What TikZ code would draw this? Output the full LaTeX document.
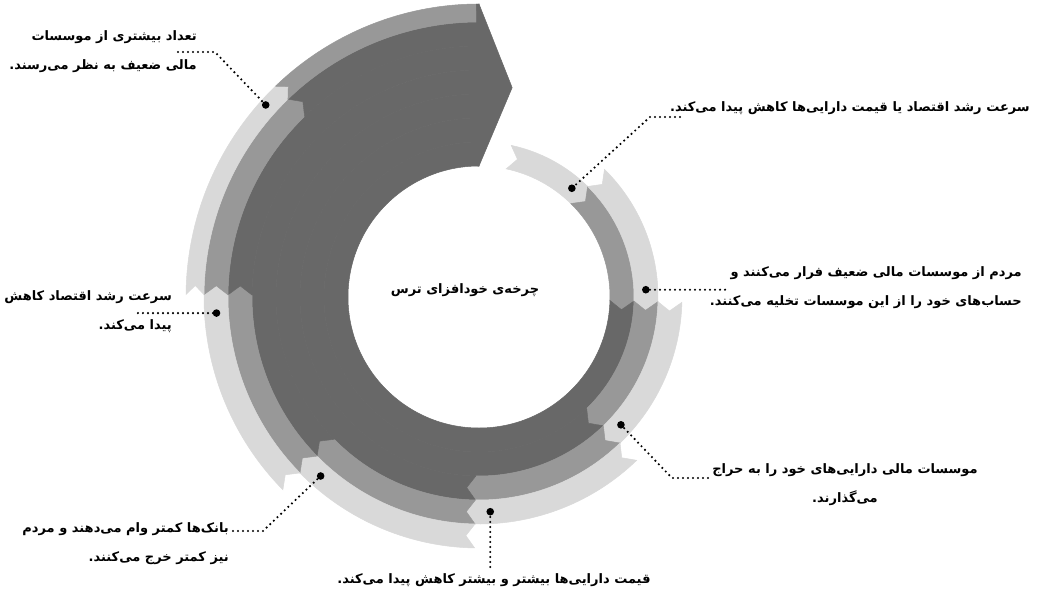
\documentclass[tikz,border=0pt]{standalone}
\usepackage{fontspec}
\newfontfamily\fa[Script=Arabic]{DejaVu Sans}
\TeXXeTstate=1
\definecolor{lite}{RGB}{217,217,217}
\definecolor{mid}{RGB}{152,152,152}
\definecolor{dk}{RGB}{104,104,104}

\begin{document}
\begin{tikzpicture}[x=1pt,y=1pt,
  lead/.style={line width=2.4pt,dash pattern=on 0pt off 5pt,line cap=round},
  lbl/.style={font=\fa\bfseries\fontsize{13}{29}\selectfont,inner sep=0pt}]
% colour, inner r, outer r, from, to, notch at tail, point at head
\def\seg#1#2#3#4#5#6#7{%
  \pgfmathsetmacro\rmid{(#2+#3)/2}
  \pgfmathsetmacro\tailang{#4-#6*9/\rmid*57.3}
  \pgfmathsetmacro\headang{#5-#7*9/\rmid*57.3}
  \fill[#1,draw=#1,line width=.5pt] (#4:#3) arc[start angle=#4,end angle=#5,radius=#3]
    -- (\headang:\rmid) -- (#5:#2) arc[start angle=#5,end angle=#4,radius=#2]
    -- (\tailang:\rmid) -- cycle;}
\useasboundingbox[fill=white] (-479,-298) rectangle (564,297);
% ring 0
\seg{lite}{131}{155}{78}{45.5}{1}{1}
\seg{mid}{131}{155}{45.5}{-1.5}{1}{1}
\seg{dk}{131}{155}{-1.5}{-270}{1}{0}
% ring 1
\seg{lite}{155}{179}{45.5}{-1.5}{1}{1}
\seg{mid}{155}{179}{-1.5}{-46}{1}{1}
\seg{dk}{155}{179}{-46}{-270}{1}{0}
% ring 2
\seg{lite}{179}{203}{-1.5}{-46}{1}{1}
\seg{mid}{179}{203}{-46}{-91}{1}{1}
\seg{dk}{179}{203}{-91}{-270}{1}{0}
% ring 3
\seg{lite}{203}{227}{-46}{-91}{1}{1}
\seg{mid}{203}{227}{-91}{-135.5}{1}{1}
\seg{dk}{203}{227}{-135.5}{-270}{1}{0}
% ring 4
\seg{lite}{227}{251}{-91}{-135.5}{1}{1}
\seg{mid}{227}{251}{-135.5}{-180.5}{1}{1}
\seg{dk}{227}{251}{-180.5}{-270}{1}{0}
% ring 5
\seg{lite}{251}{275}{-135.5}{-180.5}{1}{1}
\seg{mid}{251}{275}{-180.5}{-226}{1}{1}
\seg{dk}{251}{275}{-226}{-270}{1}{0}
% ring 6
\seg{lite}{275}{293}{-180.5}{-226}{1}{1}
\seg{mid}{275}{293}{-226}{-270}{1}{0}
% point at the end
\fill[dk,draw=dk,line width=.5pt] (-269.5:293) -- (-270:293) -- (-279:212) -- (-270:131) -- (-269.5:131) -- cycle;

\coordinate (d0) at (49.5:143);
\coordinate (d1) at (2.5:167);
\coordinate (d2) at (-42:191);
\coordinate (d3) at (-87:215);
\coordinate (d4) at (-131.5:239);
\coordinate (d5) at (-176.5:263);
\coordinate (d6) at (138:287);
\foreach \d in {d0,d1,d2,d3,d4,d5,d6} \fill (\d) circle (3.8);

\node[lbl] (c) at (-14,7) {\beginR چرخه^^^^200cی خودافزای ترس\endR};
\node[lbl,anchor=east,align=right] (t1) at (-282,245.5)
  {\beginR تعداد بیشتری از موسسات\endR\\\beginR مالی ضعیف به نظر می^^^^200cرسند.\endR};
\node[lbl,anchor=east] (t2) at (551,189)
  {\beginR سرعت رشد اقتصاد یا قیمت دارایی^^^^200cها کاهش پیدا می^^^^200cکند.\endR};
\node[lbl,anchor=east,align=right] (t3) at (543,9.5)
  {\beginR مردم از موسسات مالی ضعیف فرار می^^^^200cکنند و\endR\\\beginR حساب^^^^200cهای خود را از این موسسات تخلیه می^^^^200cکنند.\endR};
\node[lbl,align=center] (t4) at (366,-187.5)
  {\beginR موسسات مالی دارایی^^^^200cهای خود را به حراج\endR\\\beginR می^^^^200cگذارند.\endR};
\node[lbl] (t5) at (15,-283)
  {\beginR قیمت دارایی^^^^200cها بیشتر و بیشتر کاهش پیدا می^^^^200cکند.\endR};
\node[lbl,anchor=east,align=right] (t6) at (-250,-247)
  {\beginR بانک^^^^200cها کمتر وام می^^^^200cدهند و مردم\endR\\\beginR نیز کمتر خرج می^^^^200cکنند.\endR};
\node[lbl,anchor=east,align=right] (t7) at (-307,-15)
  {\beginR سرعت رشد اقتصاد کاهش\endR\\\beginR پیدا می^^^^200cکند.\endR};

\coordinate (s1) at (-301,245); \coordinate (k1) at (-264,245);
\coordinate (s2) at (201,180);  \coordinate (k2) at (171,180);
\coordinate (s3) at (246,7.3);
\coordinate (s4) at (229,-181); \coordinate (k4) at (193,-181);
\coordinate (s5) at (11.25,-270);
\coordinate (s6) at (-246,-234); \coordinate (k6) at (-216,-234);
\coordinate (s7) at (-341,-16.05);
\draw[lead] (s1) -- (k1) -- (d6);
\draw[lead] (s2) -- (k2) -- (d0);
\draw[lead] (s3) -- (d1);
\draw[lead] (s4) -- (k4) -- (d2);
\draw[lead] (s5) -- (d3);
\draw[lead] (s6) -- (k6) -- (d4);
\draw[lead] (s7) -- (d5);
\end{tikzpicture}
\end{document}
